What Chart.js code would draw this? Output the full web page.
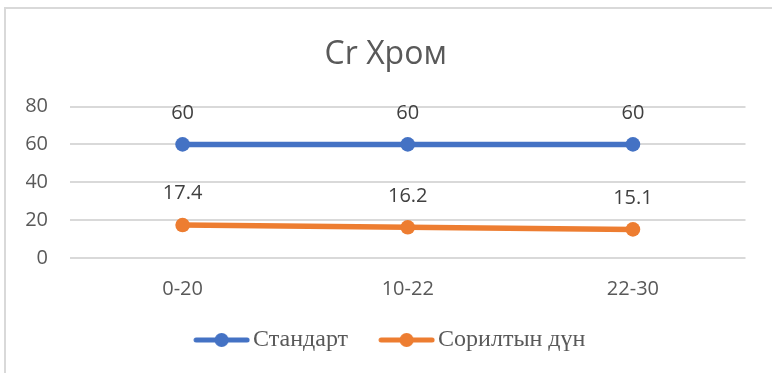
<!DOCTYPE html>
<html>
<head>
<meta charset="utf-8">
<script src="https://cdn.jsdelivr.net/npm/chart.js@4"></script>
<style>
  body { margin: 0; background: #fff; }
  #wrap { position: relative; width: 772px; height: 373px; }
  #frame {
    position: absolute; left: 4px; top: 7px; right: 0; bottom: 0;
    border-top: 2px solid #d9d9d9; border-left: 2px solid #d9d9d9;
    pointer-events: none;
  }
</style>
</head>
<body>
<div id="wrap">
  <canvas id="myChart" width="772" height="373"></canvas>
  <div id="frame"></div>
</div>
<script>
const categories = ['0-20', '10-22', '22-30'];
const standard = [60, 60, 60];
const measured = [17.4, 16.2, 15.1];
const seriesNames = ['Стандарт', 'Сорилтын дүн'];
const yTicks = [0, 20, 40, 60, 80];

const colors = ['#4472C4', '#ED7D31'];
const sans = '"Open Sans", "Noto Sans", sans-serif';

// line + dot marker for the legend (blank strip on the left keeps it close to its text)
function legendMarker(color) {
    const pad = 16;
    const c = document.createElement('canvas');
    c.width = 57 + pad;
    c.height = 16;
    const g = c.getContext('2d');
    g.strokeStyle = color;
    g.lineWidth = 5;
    g.lineCap = 'round';
    g.beginPath();
    g.moveTo(pad + 3, 8);
    g.lineTo(pad + 54, 8);
    g.stroke();
    g.fillStyle = color;
    g.beginPath();
    g.arc(pad + 28.5, 8, 7, 0, Math.PI * 2);
    g.fill();
    return c;
}
const markers = colors.map(legendMarker);

// value labels above each point
const valueLabels = {
    id: 'valueLabels',
    afterDatasetsDraw(chart) {
        const ctx = chart.ctx;
        ctx.save();
        ctx.font = '20px ' + sans;
        ctx.fillStyle = '#404040';
        ctx.textAlign = 'center';
        ctx.textBaseline = 'middle';
        chart.data.datasets.forEach((ds, i) => {
            chart.getDatasetMeta(i).data.forEach((pt, j) => {
                ctx.fillText(String(ds.data[j]), pt.x, pt.y - 31.5);
            });
        });
        ctx.restore();
    }
};

const ctx = document.getElementById('myChart').getContext('2d');
const myChart = new Chart(ctx, {
    type: 'line',
    data: {
        labels: categories,
        datasets: [standard, measured].map((data, index) => {
            return {
                label: seriesNames[index],
                data,
                borderColor: colors[index],
                backgroundColor: colors[index],
                borderWidth: 5.5,
                pointRadius: 7.3,
                pointHoverRadius: 7.3,
                pointBorderWidth: 0,
                fill: false,
                tension: 0
            };
        })
    },
    plugins: [valueLabels],
    options: {
        responsive: false,
        animation: false,
        layout: { padding: { left: 26, right: 26.5, top: 0, bottom: 11 } },
        plugins: {
            title: {
                display: true,
                text: 'Cr Хром',
                color: '#595959',
                font: { family: sans, size: 32, weight: 'normal' },
                padding: { top: 36, bottom: 32.1 }
            },
            legend: {
                position: 'bottom',
                labels: {
                    usePointStyle: true,
                    pointStyleWidth: 55,
                    padding: 23,
                    color: '#595959',
                    font: { family: '"Liberation Serif", "Times New Roman", serif', size: 24 },
                    generateLabels(chart) {
                        return chart.data.datasets.map((ds, i) => ({
                            text: ds.label,
                            pointStyle: markers[i],
                            fillStyle: colors[i],
                            strokeStyle: colors[i],
                            lineWidth: 0,
                            hidden: false,
                            datasetIndex: i,
                            fontColor: '#595959'
                        }));
                    }
                }
            },
            tooltip: { enabled: false }
        },
        scales: {
            x: {
                offset: true,
                grid: { display: false },
                border: { display: false },
                ticks: { color: '#595959', font: { family: sans, size: 20 }, padding: 11 },
                afterFit(axis) { axis.height = 47; }
            },
            y: {
                min: 0,
                max: 80,
                afterBuildTicks(axis) {
                    axis.ticks = yTicks.map(v => ({ value: v }));
                },
                grid: { color: '#d9d9d9', lineWidth: 2, drawTicks: false },
                border: { display: false },
                ticks: { color: '#595959', font: { family: sans, size: 20 }, padding: 22 },
                afterFit(axis) { axis.width = 44; }
            }
        }
    }
});
</script>
</body>
</html>
